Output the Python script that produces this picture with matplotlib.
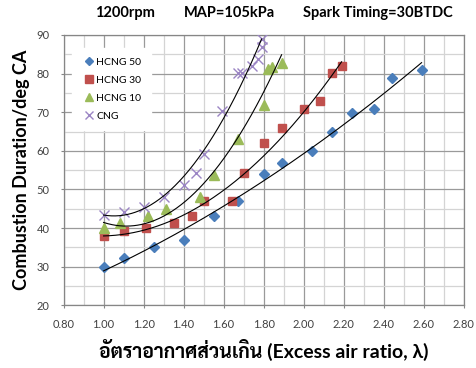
import numpy as np
import matplotlib
matplotlib.use("Agg")
import matplotlib.pyplot as plt
from matplotlib.ticker import MultipleLocator, FormatStrFormatter

# excess air ratio (lambda) vs. combustion duration, 1200 rpm
lam_h50 = [1.00, 1.10, 1.25, 1.40, 1.55, 1.67, 1.80, 1.89, 2.04, 2.14, 2.24, 2.35, 2.44, 2.59]
dur_h50 = [30.0, 32.2, 35.0, 36.9, 43.0, 47.1, 54.0, 56.9, 60.0, 64.8, 69.9, 70.8, 78.8, 81.0]

lam_h30 = [1.00, 1.10, 1.21, 1.35, 1.44, 1.50, 1.64, 1.70, 1.80, 1.89, 2.00, 2.08, 2.14, 2.19]
dur_h30 = [38.0, 39.2, 40.1, 41.2, 43.1, 47.1, 47.1, 54.2, 62.0, 66.0, 70.8, 73.0, 80.1, 82.0]

lam_h10 = [1.00, 1.08, 1.22, 1.31, 1.48, 1.55, 1.67, 1.80, 1.82, 1.84, 1.89]
dur_h10 = [40.0, 41.2, 43.0, 44.9, 48.0, 53.8, 63.0, 71.9, 81.3, 81.8, 82.8]

lam_cng = [1.00, 1.10, 1.20, 1.30, 1.40, 1.46, 1.50, 1.59, 1.67, 1.69, 1.74, 1.77, 1.79, 1.79]
dur_cng = [43.4, 44.2, 45.4, 48.1, 51.2, 54.2, 59.2, 70.2, 80.2, 80.1, 82.1, 83.8, 87.0, 89.0]

series = [
    ("HCNG 50", lam_h50, dur_h50, "D", "#4A7EBB", 5.2),
    ("HCNG 30", lam_h30, dur_h30, "s", "#C0504D", 6.2),
    ("HCNG 10", lam_h10, dur_h10, "^", "#9BBB59", 6.8),
    ("CNG", lam_cng, dur_cng, "x", "#9B85C4", 6.5),
]

plt.rcParams["font.family"] = ["Lato", "Sarabun", "Noto Sans Thai", "DejaVu Sans"]

fig = plt.figure(figsize=(4.76, 3.68), dpi=100)
ax = fig.add_axes([0.1336, 0.1704, 0.8403, 0.7345])

for name, x, y, mk, col, ms in series:
    x = np.array(x)
    y = np.array(y)
    if mk == "x":
        ax.plot(x, y, ls="none", marker=mk, ms=ms, mew=1.0, color=col, label=name, zorder=3)
    else:
        ax.plot(x, y, ls="none", marker=mk, ms=ms, mec=col, color=col, label=name, zorder=3)
    # 2nd order polynomial trendline
    c = np.polyfit(x, y, 2)
    xs = np.linspace(x.min(), x.max(), 200)
    ax.plot(xs, np.polyval(c, xs), color="black", lw=0.8, zorder=4)

ax.set_xlim(0.8, 2.8)
ax.set_ylim(20, 90)
ax.xaxis.set_major_locator(MultipleLocator(0.2))
ax.xaxis.set_minor_locator(MultipleLocator(0.1))
ax.yaxis.set_major_locator(MultipleLocator(10))
ax.yaxis.set_minor_locator(MultipleLocator(5))
ax.xaxis.set_major_formatter(FormatStrFormatter("%.2f"))

ax.grid(which="major", color="#9A9A9A", lw=0.9)
ax.grid(which="minor", color="#D4D4D4", lw=0.9)
ax.set_axisbelow(True)
for s in ax.spines.values():
    s.set_color("#868686")
    s.set_linewidth(0.9)
ax.tick_params(which="major", length=2.5, color="#868686", labelsize=8, labelcolor="#404040", pad=7.5)
ax.tick_params(which="minor", length=0)

leg = ax.legend(loc="upper left", bbox_to_anchor=(0.021, 0.952), borderaxespad=0,
                numpoints=1, fontsize=7.5, markerscale=0.85, handlelength=1.4, borderpad=0.9,
                handletextpad=0.05, labelspacing=0.85, fancybox=False, framealpha=1)
leg.get_frame().set_facecolor("white")
leg.get_frame().set_edgecolor("white")

ax.set_ylabel("Combustion Duration/deg CA", fontsize=13, fontweight="bold", labelpad=5)
ax.set_xlabel("อัตราอากาศส่วนเกิน (Excess air ratio, λ)", fontsize=14, fontweight="bold", labelpad=6)

fig.text(95 / 476, 0.965, "1200rpm", fontsize=10.5, fontweight="bold", va="center")
fig.text(184 / 476, 0.965, "MAP=105kPa", fontsize=10.5, fontweight="bold", va="center")
fig.text(303 / 476, 0.965, "Spark Timing=30BTDC", fontsize=10.5, fontweight="bold", va="center")

fig.savefig("out.png", dpi=100)
